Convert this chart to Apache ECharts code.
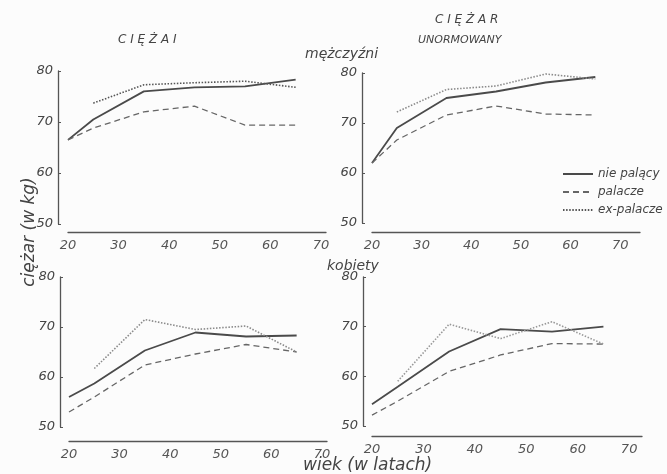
<!DOCTYPE html>
<html>
<head>
<meta charset="utf-8">
<script src="https://cdn.jsdelivr.net/npm/echarts@6/dist/echarts.min.js"></script>
<style>
html,body{margin:0;padding:0;background:#fcfcfc;}
#c{width:667px;height:474px;}
</style>
</head>
<body>
<div id="c"></div>
<script>
// ---- data ----
const ages = [20, 25, 35, 45, 55, 65];
const seriesNames = ['nie palący', 'palacze', 'ex-palacze'];
const xTicks = [20, 30, 40, 50, 60, 70];
const yTicks = [50, 60, 70, 80];

// men, weight
const menWeightNon = [66.5, 70.5, 76.0, 76.8, 77.0, 78.3];
const menWeightSmk = [66.5, 68.8, 72.0, 73.1, 69.4, 69.4];
const menWeightEx  = [null, 73.7, 77.3, 77.7, 78.0, 76.8];
// men, normalized weight
const menNormNon = [62.0, 69.0, 75.0, 76.3, 78.1, 79.2];
const menNormSmk = [62.0, 66.6, 71.6, 73.4, 71.8, 71.6];
const menNormEx  = [null, 72.2, 76.7, 77.4, 79.8, 78.8];
// women, weight
const womWeightNon = [56.0, 58.7, 65.3, 68.9, 68.1, 68.3];
const womWeightSmk = [53.0, 56.0, 62.4, 64.6, 66.5, 65.0];
const womWeightEx  = [null, 61.7, 71.5, 69.5, 70.2, 65.0];
// women, normalized weight
const womNormNon = [54.4, 57.9, 65.0, 69.5, 69.0, 70.0];
const womNormSmk = [52.2, 55.0, 61.0, 64.3, 66.6, 66.5];
const womNormEx  = [null, 59.0, 70.5, 67.6, 71.0, 66.5];

// ---- layout ----
const panels = [
  {grid:{left:68, top:71, width:258, height:153}, xMax:71, xOff:8,  yOff:10, data:[menWeightNon, menWeightSmk, menWeightEx], dot:'#555'},
  {grid:{left:372, top:73, width:268, height:150}, xMax:74, xOff:9,  yOff:10, data:[menNormNon, menNormSmk, menNormEx], dot:'#8a8a8a'},
  {grid:{left:69, top:277, width:258, height:150}, xMax:71, xOff:14, yOff:9,  data:[womWeightNon, womWeightSmk, womWeightEx], dot:'#8a8a8a'},
  {grid:{left:372, top:277, width:270, height:149}, xMax:72.5, xOff:10, yOff:9, data:[womNormNon, womNormSmk, womNormEx], dot:'#999'}
];

const FONT = "'DejaVu Sans', sans-serif";
const NARROW = "'DejaVu Sans', sans-serif";
const axisCol = '#555';

function pairs(arr){ return ages.map((a,i)=>[a, arr[i]]); }

const grids = [], xAxes = [], yAxes = [], series = [];
panels.forEach((p, i) => {
  grids.push(p.grid);
  xAxes.push({
    type:'value', gridIndex:i, min:xTicks[0], max:p.xMax, interval:10, offset:p.xOff,
    axisLine:{show:true, onZero:false, lineStyle:{color:axisCol, width:1.3}},
    axisTick:{show:false}, splitLine:{show:false},
    axisLabel:{color:'#555', fontStyle:'italic', fontFamily:NARROW, fontSize:13, margin:7,
      formatter:v => xTicks.includes(v) ? String(v) : ''}
  });
  yAxes.push({
    type:'value', gridIndex:i, min:yTicks[0], max:yTicks[yTicks.length-1], interval:10, offset:p.yOff,
    axisLine:{show:true, lineStyle:{color:axisCol, width:1.3}},
    axisTick:{show:true, inside:true, length:3, lineStyle:{color:axisCol}},
    splitLine:{show:false},
    axisLabel:{color:'#444', fontStyle:'italic', fontFamily:NARROW, fontSize:13, margin:5}
  });
  const styles = [
    {color:'#4a4a4a', width:1.8, type:'solid'},
    {color:'#666', width:1.3, type:[6,4]},
    {color:p.dot, width:1.6, type:[1.5,1.6]}
  ];
  p.data.forEach((arr, k) => {
    series.push({
      type:'line', name:seriesNames[k], xAxisIndex:i, yAxisIndex:i,
      data:pairs(arr), showSymbol:false, symbol:'none', connectNulls:false,
      lineStyle:styles[k], itemStyle:{color:styles[k].color},
      silent:true, animation:false
    });
  });
});

const titleStyle = {color:'#444', fontFamily:FONT, fontStyle:'italic', fontWeight:'normal', fontSize:12};
const option = {
  backgroundColor:'#fcfcfc',
  animation:false,
  title:[
    {text:'C I Ę Ż A I', left:113, top:29, textStyle:titleStyle},
    {text:'C I Ę Ż A R', left:430, top:9, textStyle:titleStyle},
    {text:'UNORMOWANY', left:413, top:30, textStyle:Object.assign({}, titleStyle, {fontSize:11})},
    {text:'mężczyźni', left:300, top:42, textStyle:Object.assign({}, titleStyle, {fontSize:14})},
    {text:'kobiety', left:322, top:254, textStyle:Object.assign({}, titleStyle, {fontSize:14})},
    {text:'wiek (w latach)', left:298, top:452, textStyle:Object.assign({}, titleStyle, {fontSize:17})}
  ],
  graphic:[
    {type:'text', x:30, y:232, rotation:Math.PI/2, style:{text:'ciężar (w kg)', font:"italic 17px 'DejaVu Sans', sans-serif", fill:'#444', align:'center', verticalAlign:'middle'}}
  ],
  legend:{
    orient:'vertical', left:557, top:163, itemGap:6, itemWidth:30, itemHeight:12,
    data:seriesNames,
    itemStyle:{color:'rgba(0,0,0,0)', borderWidth:0},
    textStyle:{color:'#444', fontStyle:'italic', fontFamily:NARROW, fontSize:12}
  },
  grid:grids, xAxis:xAxes, yAxis:yAxes, series:series
};

const chart = echarts.init(document.getElementById('c'), null, {renderer:'canvas'});
chart.setOption(option);
</script>
</body>
</html>
